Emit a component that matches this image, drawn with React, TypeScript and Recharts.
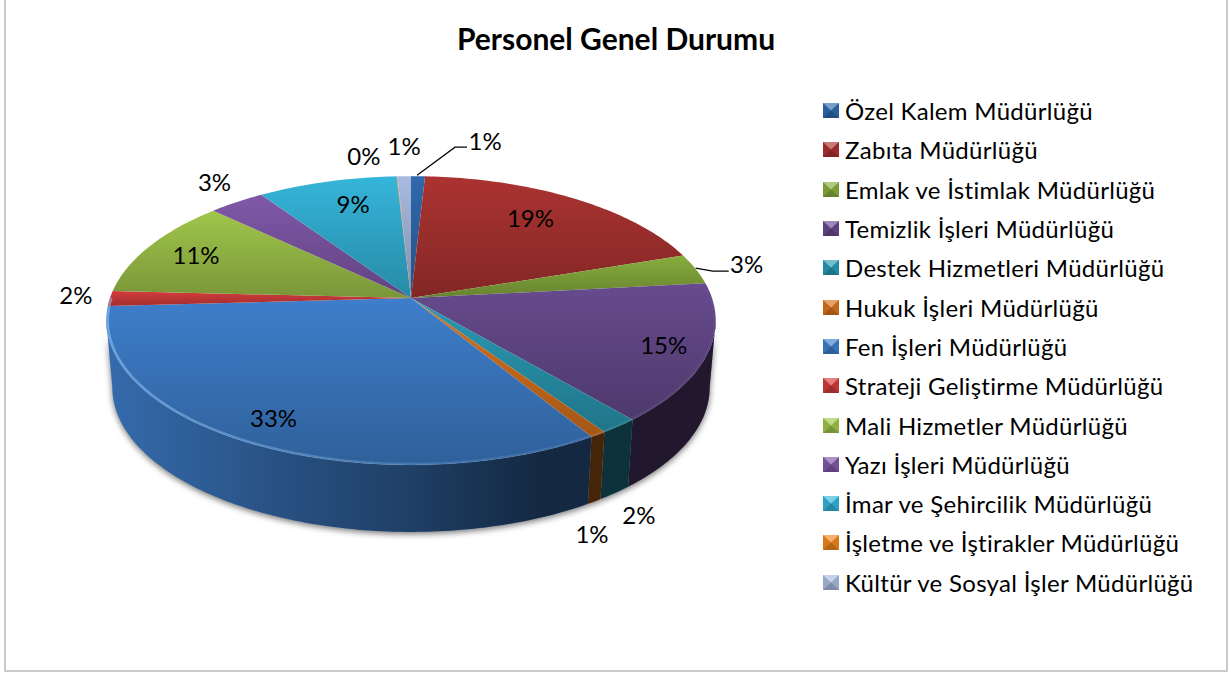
import { PieChart, Pie, Legend } from "recharts";

const categories = [
  "Özel Kalem Müdürlüğü",
  "Zabıta Müdürlüğü",
  "Emlak ve İstimlak Müdürlüğü",
  "Temizlik İşleri Müdürlüğü",
  "Destek Hizmetleri Müdürlüğü",
  "Hukuk İşleri Müdürlüğü",
  "Fen İşleri Müdürlüğü",
  "Strateji Geliştirme Müdürlüğü",
  "Mali Hizmetler Müdürlüğü",
  "Yazı İşleri Müdürlüğü",
  "İmar ve Şehircilik Müdürlüğü",
  "İşletme ve İştirakler Müdürlüğü",
  "Kültür ve Sosyal İşler Müdürlüğü",
];
const shares = [0.86, 19.0, 3.41, 15.45, 1.78, 0.75, 32.75, 1.69, 11.23, 3.47, 8.6, 0.04, 0.84];
const colors = [
  "#3069ad", "#ab3331", "#88ad3e", "#674b8e", "#2a9ab4", "#d8721d", "#3e7ecb",
  "#d43c3c", "#a0c64b", "#8058a8", "#35b5da", "#f0861e", "#a8bbdf",
];
const FACE_BOTTOM = 0.76;

// label placement relative to the slice's point on the rim
const labelOffsets = [
  [67, -36], [-43, 19], [51, -6], [-44, -9], [20, 88], [-6, 99], [25, -25],
  [-34, -4], [46, 9], [-22, -21], [26, 22], [-33, -21], [0, -31],
];
const leaders: Record<number, number[][]> = {
  0: [[-1, -1], [37, -29], [49, -29]],
  2: [[0, -1], [17, 2], [33, 2]],
};

const data = categories.map((name, i) => ({ name, value: shares[i], fill: `url(#face${i})` }));

// fake perspective of the tilted disc
const PERSP = 0.156;
const TILT = 0.468;
const DEPTH = 67;
const FLOOR_SCALE = 0.98;

const rim = (cx: number, cy: number, r: number, deg: number) => {
  const t = (deg * Math.PI) / 180;
  const den = 1 + PERSP * Math.cos(t);
  return { x: cx + (r * Math.sin(t)) / den, y: cy - (r * TILT * Math.cos(t)) / den };
};

const sweep = (a: number, b: number) => {
  const out: number[] = [];
  for (let d = a; d < b; d += 1) out.push(d);
  out.push(b);
  return out;
};

const toPath = (pts: { x: number; y: number }[]) =>
  pts.map((p, i) => `${i ? "L" : "M"}${p.x.toFixed(2)} ${p.y.toFixed(2)}`).join(" ");

const shade = (hex: string, k: number) => {
  const n = parseInt(hex.slice(1), 16);
  const ch = (v: number) => Math.round(v * k);
  return `rgb(${ch(n >> 16)},${ch((n >> 8) & 255)},${ch(n & 255)})`;
};

const FaceShape = (props: any) => {
  const { cx, cy, outerRadius, startAngle, endAngle, fill } = props;
  const a = 90 - startAngle;
  const b = 90 - endAngle;
  const edge = sweep(a, b).map((d) => rim(cx, cy, outerRadius, d));
  const inner = sweep(Math.max(a, 90), Math.min(b, 270));
  return (
    <g>
      <path d={`${toPath([{ x: cx, y: cy }, ...edge])} Z`} fill={fill} />
      {b > 90 && a < 270 && (
        <path
          d={toPath(inner.map((d) => rim(cx, cy, outerRadius - 1.5, d)))}
          fill="none"
          stroke="url(#rimLight)"
          strokeWidth={2.5}
        />
      )}
    </g>
  );
};

const WallShape = (props: any) => {
  const { cx, cy, outerRadius, startAngle, endAngle, index } = props;
  const a = Math.max(90 - startAngle, 99);
  const b = Math.min(90 - endAngle, 261);
  if (b <= a) return <g />;
  const top = sweep(a, b).map((d) => rim(cx, cy, outerRadius, d));
  const floor = top
    .map((p) => ({ x: cx + (p.x - cx) * FLOOR_SCALE, y: p.y + DEPTH }))
    .reverse();
  const d = `${toPath([...top, ...floor])} Z`;
  return (
    <g>
      <path d={d} fill={colors[index]} />
      <path d={d} fill="url(#wallShade)" />
    </g>
  );
};

const renderLabel = (props: any) => {
  const { cx, cy, midAngle, percent, index, outerRadius } = props;
  const p = rim(cx, cy, outerRadius, 90 - midAngle);
  const [dx, dy] = labelOffsets[index];
  const line = leaders[index];
  return (
    <g key={index}>
      {line && (
        <polyline
          points={line.map(([lx, ly]) => `${p.x + lx},${p.y + ly}`).join(" ")}
          fill="none"
          stroke="#000"
          strokeWidth={1.2}
        />
      )}
      <text
        x={p.x + dx}
        y={p.y + dy}
        textAnchor="middle"
        dominantBaseline="central"
        fontFamily="Lato"
        fontSize={24}
        fill="#000"
      >
        {Math.round(percent * 100)}%
      </text>
    </g>
  );
};

const renderLegend = () => (
  <div style={{ fontFamily: "Lato", fontSize: 24, letterSpacing: 0.3, color: "#000" }}>
    {categories.map((name, i) => (
      <div key={name} style={{ height: 39.3, display: "flex", alignItems: "center" }}>
        <svg width={16} height={15} style={{ marginRight: 6 }}>
          <rect width={16} height={15} fill={colors[i]} />
          <polygon points="0,0 16,0 8,7.5" fill="#fff" opacity={0.35} />
          <polygon points="0,15 16,15 8,7.5" fill="#000" opacity={0.25} />
          <polygon points="0,0 0,15 8,7.5" fill="#000" opacity={0.1} />
          <polygon points="16,0 16,15 8,7.5" fill="#000" opacity={0.1} />
        </svg>
        <span style={{ whiteSpace: "nowrap" }}>{name}</span>
      </div>
    ))}
  </div>
);

export default function App() {
  return (
    <div style={{ position: "absolute", left: 0, top: 0, width: 1231, height: 675, background: "#fff" }}>
      <style>{`.wall-pie { filter: drop-shadow(0 2px 3px rgba(0,0,0,0.55)); }`}</style>
      <div
        style={{
          position: "absolute",
          left: 4,
          top: -2,
          width: 1220,
          height: 670,
          border: "2px solid #cccccc",
        }}
      />
      <PieChart width={1231} height={675} margin={{ top: 0, right: 0, bottom: 0, left: 0 }}>
        <defs>
          {colors.map((c, i) => (
            <linearGradient key={i} id={`face${i}`} x1="0" y1="0" x2="0" y2="1">
              <stop offset="0" stopColor={c} />
              <stop offset="1" stopColor={shade(c, FACE_BOTTOM)} />
            </linearGradient>
          ))}
          <linearGradient id="wallShade" gradientUnits="userSpaceOnUse" x1="106" y1="0" x2="716" y2="0">
            <stop offset="0" stopColor="#000" stopOpacity={0.15} />
            <stop offset="0.3" stopColor="#000" stopOpacity={0.37} />
            <stop offset="0.5" stopColor="#000" stopOpacity={0.5} />
            <stop offset="0.71" stopColor="#000" stopOpacity={0.68} />
            <stop offset="1" stopColor="#000" stopOpacity={0.68} />
          </linearGradient>
          <linearGradient id="rimLight" gradientUnits="userSpaceOnUse" x1="106" y1="0" x2="716" y2="0">
            <stop offset="0" stopColor="#9fd0ff" stopOpacity={0.5} />
            <stop offset="0.6" stopColor="#9fd0ff" stopOpacity={0.15} />
            <stop offset="1" stopColor="#fff" stopOpacity={0.02} />
          </linearGradient>
        </defs>
        <text
          x={616}
          y={38}
          textAnchor="middle"
          dominantBaseline="central"
          fontFamily="Lato"
          fontWeight={700}
          fontSize={30}
          fill="#000"
        >
          Personel Genel Durumu
        </text>
        <Pie
          data={data}
          dataKey="value"
          nameKey="name"
          cx={411}
          cy={298}
          outerRadius={301}
          startAngle={90}
          endAngle={-270}
          legendType="none"
          className="wall-pie"
          shape={WallShape}
          isAnimationActive={false}
        />
        <Pie
          data={data}
          dataKey="value"
          nameKey="name"
          cx={411}
          cy={298}
          outerRadius={301}
          startAngle={90}
          endAngle={-270}
          shape={FaceShape}
          label={renderLabel}
          labelLine={false}
          isAnimationActive={false}
        />
        <Legend
          content={renderLegend}
          layout="vertical"
          wrapperStyle={{ left: 823, top: 91, width: 400, bottom: "auto", right: "auto" }}
        />
      </PieChart>
    </div>
  );
}
